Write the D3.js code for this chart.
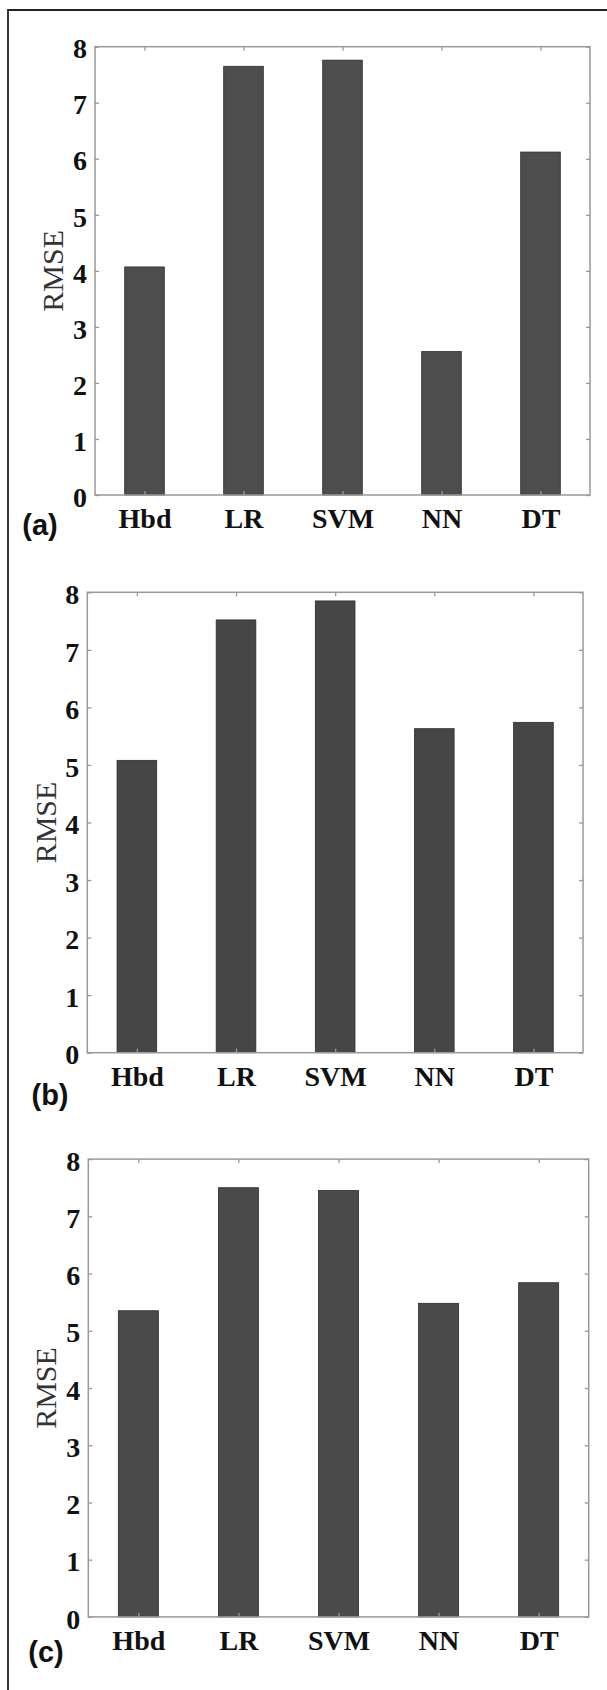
<!DOCTYPE html>
<html>
<head>
<meta charset="utf-8">
<script src="https://cdn.jsdelivr.net/npm/d3@7"></script>
<style>
  body { margin: 0; background: #fff; }
  svg { display: block; }
  .tick text { font-family: "Liberation Serif", "Times New Roman", serif; font-weight: bold; font-size: 28px; fill: #111; }
  .tick line { stroke: #999; stroke-width: 1.3; }
</style>
</head>
<body>
<div id="chart"></div>
<script>
// categories and RMSE values for the three panels
var methods = ["Hbd", "LR", "SVM", "NN", "DT"];
var rmseA = [4.07, 7.65, 7.76, 2.56, 6.12];
var rmseB = [5.08, 7.52, 7.85, 5.63, 5.74];
var rmseC = [5.35, 7.50, 7.45, 5.48, 5.84];
var yTicks = [0, 1, 2, 3, 4, 5, 6, 7, 8];
var panelTags = ["(a)", "(b)", "(c)"];

// where each panel sits on the page
var panels = [
  {values: rmseA, x0: 95,   x1: 590,   y0: 46.7,   y1: 495,    tagX: 40, tagY: 525,  labX: 52, fill: "#4d4d4d"},
  {values: rmseB, x0: 87.3, x1: 583,   y0: 592.3,  y1: 1052.7, tagX: 50, tagY: 1095, labX: 45, fill: "#464646"},
  {values: rmseC, x0: 88.3, x1: 588.7, y0: 1159.1, y1: 1616.9, tagX: 46, tagY: 1652, labX: 45, fill: "#4a4a4a"}
];

var svg = d3.select("#chart")
  .append("svg")
    .attr("width", 607)
    .attr("height", 1690);

svg.append("rect")
  .attr("width", 607).attr("height", 1690)
  .attr("fill", "#fff");

// outer frame (only the left and top edges show)
svg.append("path")
  .attr("d", "M8,1690 L8,10 L607,10")
  .attr("fill", "none")
  .attr("stroke", "#222")
  .attr("stroke-width", 1.8);

panels.forEach(function(p, k) {
  var width = p.x1 - p.x0,
      height = p.y1 - p.y0;

  var g = svg.append("g")
    .attr("transform", "translate(" + p.x0 + "," + p.y0 + ")");

  // band scale: bar is 0.4 of the step, centred like matlab bars
  var x = d3.scaleBand()
    .domain(methods)
    .range([0, width])
    .paddingInner(0.6)
    .paddingOuter(0.3);

  var y = d3.scaleLinear()
    .domain([0, 8])
    .range([height, 0]);

  var data = methods.map(function(m, i) { return {name: m, value: p.values[i]}; });

  // bars
  g.selectAll("rect.bar")
    .data(data)
    .enter()
    .append("rect")
      .attr("class", "bar")
      .attr("x", function(d) { return x(d.name); })
      .attr("y", function(d) { return y(d.value); })
      .attr("width", x.bandwidth())
      .attr("height", function(d) { return height - y(d.value); })
      .attr("fill", p.fill)
      .attr("stroke", "#2b2b2b")
      .attr("stroke-width", 0.8);

  // ticks sit at the bar centres
  var xc = function(m) { return x(m) + x.bandwidth() / 2; };
  var xAxisScale = d3.scalePoint().domain(methods).range([xc(methods[0]), xc(methods[methods.length - 1])]);

  var left = g.append("g")
    .call(d3.axisLeft(y).tickValues(yTicks).tickSize(-4).tickPadding(8));
  left.selectAll(".tick text").attr("dy", "0.4em");

  g.append("g")
    .attr("transform", "translate(" + width + ",0)")
    .call(d3.axisRight(y).tickValues(yTicks).tickSize(-4).tickFormat(""));

  g.append("g")
    .call(d3.axisTop(xAxisScale).tickSize(-4).tickFormat(""));

  g.append("g")
    .attr("transform", "translate(0," + height + ")")
    .call(d3.axisBottom(xAxisScale).tickSize(-4).tickPadding(13));

  g.selectAll(".domain").remove();

  // plot box
  g.append("rect")
    .attr("width", width)
    .attr("height", height)
    .attr("fill", "none")
    .attr("stroke", "#999")
    .attr("stroke-width", 1.5);

  // y label
  svg.append("text")
    .attr("transform", "translate(" + p.labX + "," + (p.y0 + height / 2) + ") rotate(-90)")
    .attr("text-anchor", "middle")
    .attr("dy", "0.35em")
    .style("font-family", "'Liberation Serif', 'Times New Roman', serif")
    .style("font-size", "30px")
    .style("fill", "#333")
    .text("RMSE");

  // panel tag
  svg.append("text")
    .attr("x", p.tagX)
    .attr("y", p.tagY)
    .attr("text-anchor", "middle")
    .attr("dy", "0.35em")
    .style("font-family", "'Liberation Sans', Arial, sans-serif")
    .style("font-weight", "bold")
    .style("font-size", "29px")
    .style("fill", "#111")
    .text(panelTags[k]);
});
</script>
</body>
</html>
